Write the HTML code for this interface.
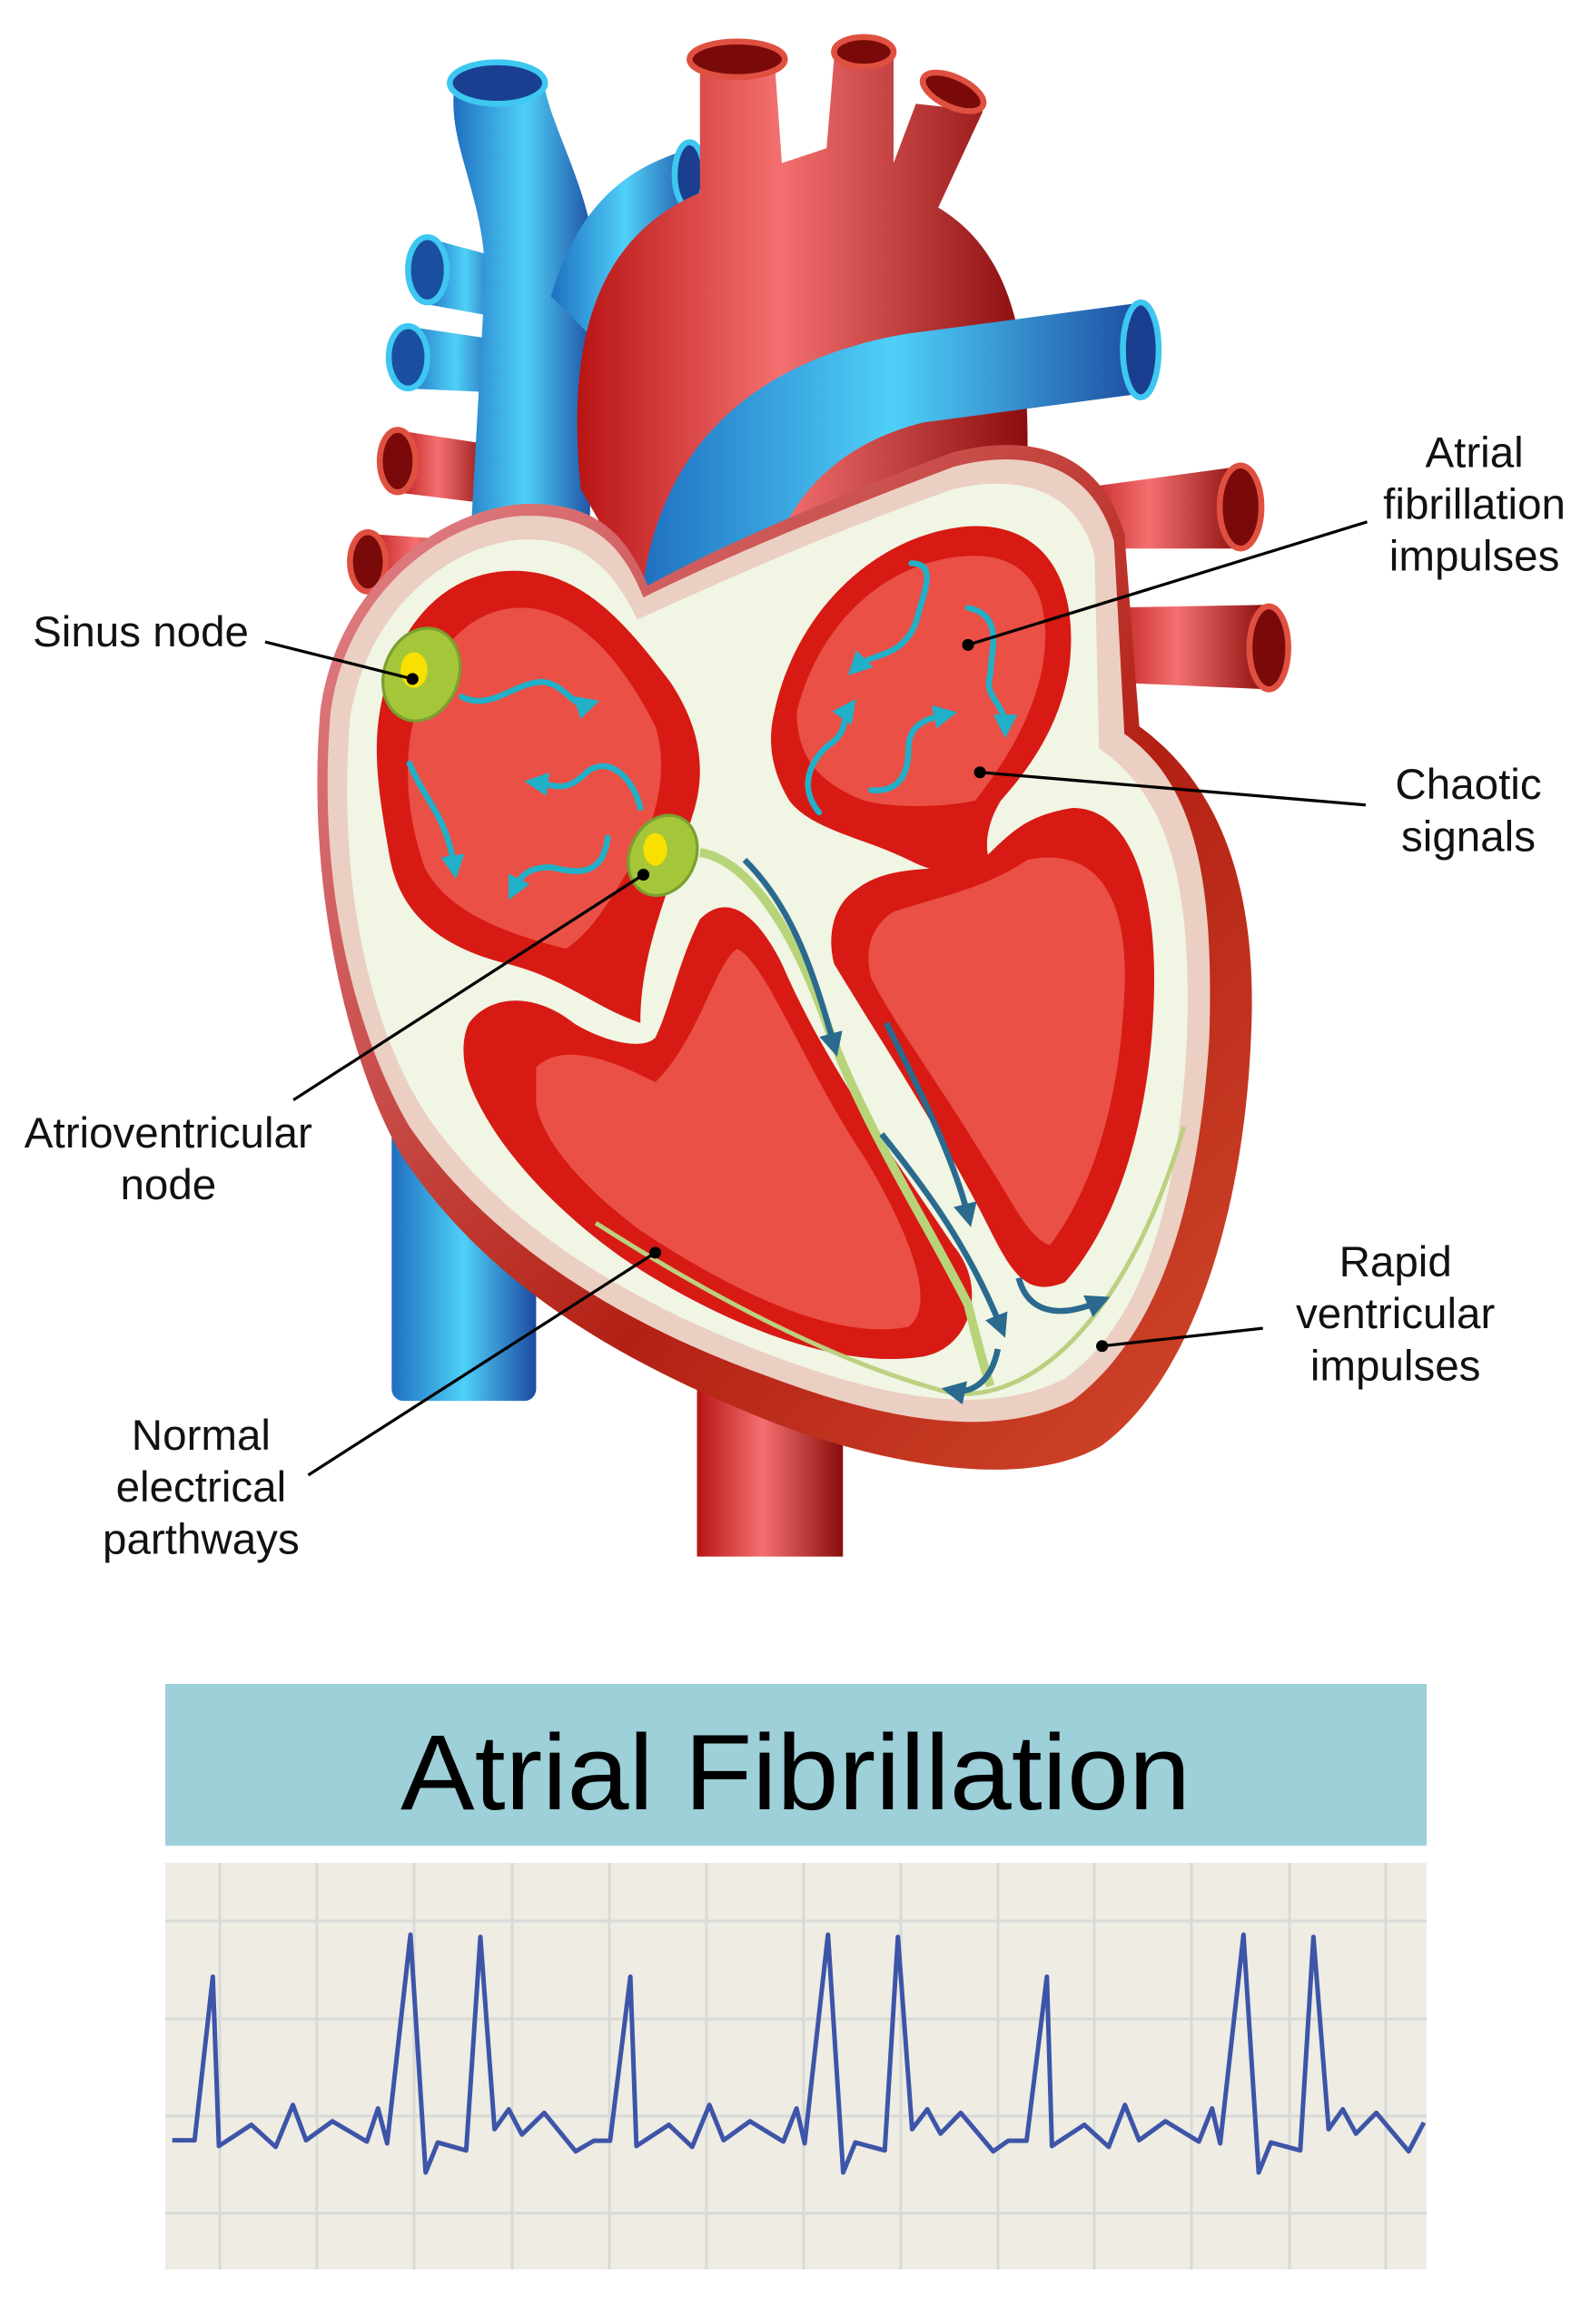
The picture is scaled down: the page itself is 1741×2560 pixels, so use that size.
<!DOCTYPE html>
<html><head><meta charset="utf-8"><style>
html,body{margin:0;padding:0;background:#fff}
svg{display:block}
text{font-family:"Liberation Sans",sans-serif;fill:#111}
</style></head><body>
<svg width="1741" height="2560" viewBox="0 0 1741 2560" xmlns="http://www.w3.org/2000/svg">
<defs>
<linearGradient id="bl" x1="0" x2="1"><stop offset="0" stop-color="#1f6fc0"/><stop offset=".5" stop-color="#4fd0f8"/><stop offset="1" stop-color="#1c4aa0"/></linearGradient>
<linearGradient id="rd" x1="0" x2="1"><stop offset="0" stop-color="#b81414"/><stop offset=".45" stop-color="#f47070"/><stop offset="1" stop-color="#8a0c0c"/></linearGradient>
<linearGradient id="outer" x1="0" x2="1" y1="0" y2="1"><stop offset="0" stop-color="#e58a92"/><stop offset=".6" stop-color="#b32014"/><stop offset="1" stop-color="#d24a2c"/></linearGradient>
<marker id="ac" viewBox="0 0 10 10" refX="5" refY="5" markerWidth="4" markerHeight="4" orient="auto"><path d="M0 0 L10 5 L0 10 Z" fill="#22b0c8"/></marker>
<marker id="ab" viewBox="0 0 10 10" refX="5" refY="5" markerWidth="4" markerHeight="4" orient="auto"><path d="M0 0 L10 5 L0 10 Z" fill="#2a6a8e"/></marker>
</defs>
<g transform="scale(1.64,1.633)">
<rect x="263" y="690" width="97" height="255" rx="8" fill="url(#bl)"/>
<rect x="468" y="880" width="98" height="170" fill="url(#rd)"/>
<path d="M285 160 L340 175 L340 215 L285 205 Z" fill="url(#bl)"/><ellipse cx="287" cy="182" rx="13" ry="22" fill="#1a4fa0" stroke="#3ec7f0" stroke-width="4"/>
<path d="M272 220 L340 230 L340 265 L272 262 Z" fill="url(#bl)"/><ellipse cx="274" cy="241" rx="13" ry="21" fill="#1a4fa0" stroke="#3ec7f0" stroke-width="4"/>
<path d="M265 290 L330 300 L330 340 L265 332 Z" fill="url(#rd)"/><ellipse cx="267" cy="311" rx="12" ry="21" fill="#7a0a0a" stroke="#e05040" stroke-width="4"/>
<path d="M245 360 L320 365 L320 400 L245 398 Z" fill="url(#rd)"/><ellipse cx="247" cy="379" rx="12" ry="20" fill="#7a0a0a" stroke="#e05040" stroke-width="4"/>
<path d="M720 330 L830 315 L835 370 L720 370 Z" fill="url(#rd)"/><ellipse cx="833" cy="342" rx="14" ry="28" fill="#7a0a0a" stroke="#e05040" stroke-width="4"/>
<path d="M740 410 L850 408 L852 465 L740 460 Z" fill="url(#rd)"/><ellipse cx="852" cy="437" rx="13" ry="28" fill="#7a0a0a" stroke="#e05040" stroke-width="4"/>
<path d="M305 60 C300 100 330 140 325 200 L315 380 L395 390 L400 200 C405 140 370 90 365 55 Z" fill="url(#bl)"/>
<ellipse cx="334" cy="56" rx="32" ry="14" fill="#1a3f90" stroke="#3ec7f0" stroke-width="4"/>
<path d="M370 200 C390 130 430 110 465 100 L470 140 C430 160 410 190 400 230 Z" fill="url(#bl)"/>
<ellipse cx="463" cy="118" rx="10" ry="22" fill="#1a3f90" stroke="#3ec7f0" stroke-width="4"/>
<path d="M390 330 C380 230 400 160 470 130 L470 50 L520 40 L525 110 L555 100 L560 40 L600 40 L600 110 L615 70 L660 75 L630 140 C680 170 690 230 690 300 L690 380 L430 400 Z" fill="url(#rd)"/>
<ellipse cx="495" cy="40" rx="32" ry="12" fill="#7a0a0a" stroke="#e05040" stroke-width="4"/>
<ellipse cx="580" cy="35" rx="20" ry="10" fill="#7a0a0a" stroke="#e05040" stroke-width="4"/>
<ellipse cx="640" cy="62" rx="22" ry="10" fill="#7a0a0a" stroke="#e05040" stroke-width="4" transform="rotate(25 640 62)"/>
<path d="M430 410 C440 290 520 240 610 225 L760 205 L770 265 L620 285 C560 300 520 340 510 410 Z" fill="url(#bl)"/>
<ellipse cx="766" cy="236" rx="12" ry="32" fill="#1a3f90" stroke="#3ec7f0" stroke-width="4"/>
<path d="M215 480 C225 400 290 345 350 340 C400 338 420 360 435 395 C480 370 560 335 640 305 C700 290 740 310 755 360 L765 490 C820 530 845 600 840 700 C835 820 800 930 740 975 C690 1005 600 990 520 960 C420 920 330 870 270 780 C235 720 205 600 215 480 Z" fill="url(#outer)"/>
<path d="M222 480 C232 405 292 352 350 348 C398 346 418 368 432 403 C482 378 560 345 640 315 C695 300 735 318 748 365 L755 495 C805 530 815 600 812 700 C805 810 780 900 720 945 C670 970 600 960 520 930 C420 895 330 840 275 760 C240 700 212 600 222 480 Z" fill="#ebcfc2"/>
<path d="M235 485 C245 415 298 368 350 364 C392 362 412 385 428 418 C478 395 560 358 640 330 C690 318 725 335 735 375 L738 505 C790 540 800 610 797 700 C792 805 770 890 715 930 C665 955 600 945 520 915 C420 878 335 825 285 750 C250 695 226 600 235 485 Z" fill="#f0f5e4"/>
<path d="M255 480 C265 420 300 385 345 385 C390 385 420 420 450 460 C470 490 475 520 465 550 C450 600 430 640 430 690 C400 680 380 660 340 650 C300 640 270 620 262 580 C255 540 250 510 255 480 Z" fill="#d81a14"/>
<path d="M275 500 C285 440 315 410 350 410 C390 410 420 450 440 490 C450 520 440 560 420 590 C405 615 395 630 380 640 C340 630 300 615 285 585 C275 555 272 530 275 500 Z" fill="#ea5045"/>
<path d="M520 480 C535 410 590 360 650 355 C700 352 725 390 718 450 C712 490 690 520 672 540 C660 560 660 580 670 590 C640 590 630 590 610 580 C580 565 545 560 530 540 C518 520 515 500 520 480 Z" fill="#d81a14"/>
<path d="M535 480 C550 420 595 378 650 375 C690 373 708 400 700 450 C692 490 670 520 655 540 C630 545 600 545 580 540 C555 530 535 515 535 480 Z" fill="#ea5045"/>
<path d="M575 600 C600 580 640 590 660 580 C680 560 690 550 720 545 C760 545 775 600 775 660 C775 740 755 820 715 865 C690 875 680 860 665 830 C630 760 590 700 560 650 C555 630 560 610 575 600 Z" fill="#d81a14"/>
<path d="M600 615 C630 605 660 600 690 580 C740 570 758 610 755 670 C752 740 735 800 705 840 C690 835 680 810 660 780 C630 730 600 690 585 660 C580 640 585 625 600 615 Z" fill="#ea5045"/>
<path d="M315 690 C330 670 360 670 385 690 C400 700 430 710 440 700 C450 680 455 650 470 620 C490 600 510 620 525 650 C555 720 600 780 640 840 C665 870 650 910 620 915 C560 925 480 890 420 850 C370 815 330 770 315 730 C310 715 310 700 315 690 Z" fill="#d81a14"/>
<path d="M360 720 C380 700 420 720 440 730 C470 700 480 650 495 640 C515 650 540 720 580 780 C610 830 630 880 610 895 C560 905 490 870 430 830 C390 800 365 770 360 745 Z" fill="#ea5045"/>
<path d="M470 575 C500 580 530 620 555 690 C580 760 620 820 650 880 C655 900 660 920 665 935" fill="none" stroke="#b8d47a" stroke-width="6"/>
<path d="M400 825 C470 870 560 920 640 940 C700 945 760 880 795 760" fill="none" stroke="#bcd080" stroke-width="3"/>
<g fill="none" stroke="#2a6a8e" stroke-width="4" marker-end="url(#ab)">
<path d="M500 580 C530 610 545 650 560 705"/>
<path d="M595 690 C615 730 640 780 650 820"/>
<path d="M592 765 C620 800 650 840 672 895"/>
<path d="M684 862 C690 885 710 890 738 878"/>
<path d="M670 910 C665 935 650 940 640 938"/>
</g>
<g fill="none" stroke="#22b0c8" stroke-width="4" stroke-linecap="round" marker-end="url(#ac)">
<path d="M310 470 C330 480 345 460 365 460 C380 462 385 478 395 475"/>
<path d="M275 515 C285 540 300 550 305 585"/>
<path d="M430 545 C425 525 410 510 395 520 C380 535 375 530 360 528"/>
<path d="M408 565 C405 590 390 590 370 585 C355 585 350 590 345 600"/>
<path d="M612 380 C630 380 620 400 615 420 C605 445 585 440 575 450"/>
<path d="M650 410 C675 415 665 440 665 455 C660 470 675 475 675 490"/>
<path d="M550 548 C535 530 545 510 560 500 C570 490 565 485 570 478"/>
<path d="M585 533 C605 535 610 520 610 505 C610 490 620 485 635 482"/>
</g>
<ellipse cx="283" cy="455" rx="25" ry="32" fill="#a6c63a" stroke="#7aa030" stroke-width="2" transform="rotate(20 283 455)"/>
<ellipse cx="278" cy="452" rx="9" ry="12" fill="#f8e000"/>
<ellipse cx="445" cy="577" rx="22" ry="28" fill="#a6c63a" stroke="#7aa030" stroke-width="2" transform="rotate(25 445 577)"/>
<ellipse cx="440" cy="573" rx="8" ry="11" fill="#f8e000"/>
<g stroke="#000" stroke-width="2">
<line x1="178" y1="433" x2="277" y2="458"/>
<line x1="918" y1="352" x2="650" y2="435"/>
<line x1="917" y1="543" x2="658" y2="521"/>
<line x1="197" y1="742" x2="432" y2="590"/>
<line x1="207" y1="995" x2="440" y2="845"/>
<line x1="848" y1="896" x2="740" y2="908"/>
</g>
<g fill="#000"><circle cx="277" cy="458" r="4"/><circle cx="650" cy="435" r="4"/><circle cx="658" cy="521" r="4"/><circle cx="432" cy="590" r="4"/><circle cx="440" cy="845" r="4"/><circle cx="740" cy="908" r="4"/></g>
<g font-size="29">
<text x="22" y="436">Sinus node</text>
<g text-anchor="middle">
<text x="990" y="315">Atrial</text><text x="990" y="350">fibrillation</text><text x="990" y="385">impulses</text>
<text x="986" y="539">Chaotic</text><text x="986" y="574">signals</text>
<text x="113" y="774">Atrioventricular</text><text x="113" y="809">node</text>
<text x="937" y="861">Rapid</text><text x="937" y="896">ventricular</text><text x="937" y="931">impulses</text>
<text x="135" y="978">Normal</text><text x="135" y="1013">electrical</text><text x="135" y="1048">parthways</text>
</g></g>
</g>
<rect x="182" y="1855" width="1389" height="178" fill="#9dd0d9"/>
<text x="876" y="1993" text-anchor="middle" font-size="118" textLength="870" lengthAdjust="spacingAndGlyphs" style="fill:#000">Atrial Fibrillation</text>
<rect x="182" y="2052" width="1389" height="448" fill="#eeece3"/>
<g stroke="#d8dad8" stroke-width="3">
<line x1="242" y1="2052" x2="242" y2="2500"/><line x1="349" y1="2052" x2="349" y2="2500"/><line x1="456" y1="2052" x2="456" y2="2500"/><line x1="564" y1="2052" x2="564" y2="2500"/><line x1="671" y1="2052" x2="671" y2="2500"/><line x1="778" y1="2052" x2="778" y2="2500"/><line x1="885" y1="2052" x2="885" y2="2500"/><line x1="992" y1="2052" x2="992" y2="2500"/><line x1="1099" y1="2052" x2="1099" y2="2500"/><line x1="1205" y1="2052" x2="1205" y2="2500"/><line x1="1312" y1="2052" x2="1312" y2="2500"/><line x1="1420" y1="2052" x2="1420" y2="2500"/><line x1="1526" y1="2052" x2="1526" y2="2500"/>
<line x1="182" y1="2116" x2="1571" y2="2116"/><line x1="182" y1="2224" x2="1571" y2="2224"/><line x1="182" y1="2331" x2="1571" y2="2331"/><line x1="182" y1="2438" x2="1571" y2="2438"/>
</g>
<g transform="translate(0,1800) scale(1.116,0.487)">
<polyline vector-effect="non-scaling-stroke" fill="none" stroke="#3d55a8" stroke-width="5" stroke-linejoin="round" points="170,1145 192,1145 210,775 216,1158 248,1110 272,1160 289,1065 302,1145 328,1102 362,1148 373,1073 382,1152 405,680 420,1218 432,1150 460,1168 474,685 488,1120 502,1075 515,1132 537,1083 568,1170 586,1146 602,1146 622,775 628,1158 660,1110 683,1160 700,1065 714,1145 740,1102 773,1148 786,1073 794,1152 817,680 832,1218 844,1150 873,1168 886,685 900,1120 915,1075 928,1130 948,1083 980,1170 995,1146 1013,1146 1033,775 1038,1158 1070,1110 1094,1160 1110,1065 1124,1145 1150,1102 1183,1148 1196,1073 1204,1152 1227,680 1242,1218 1254,1150 1283,1168 1296,685 1311,1120 1325,1075 1338,1130 1358,1083 1390,1170 1405,1105"/>
</g>
</svg>
</body></html>
